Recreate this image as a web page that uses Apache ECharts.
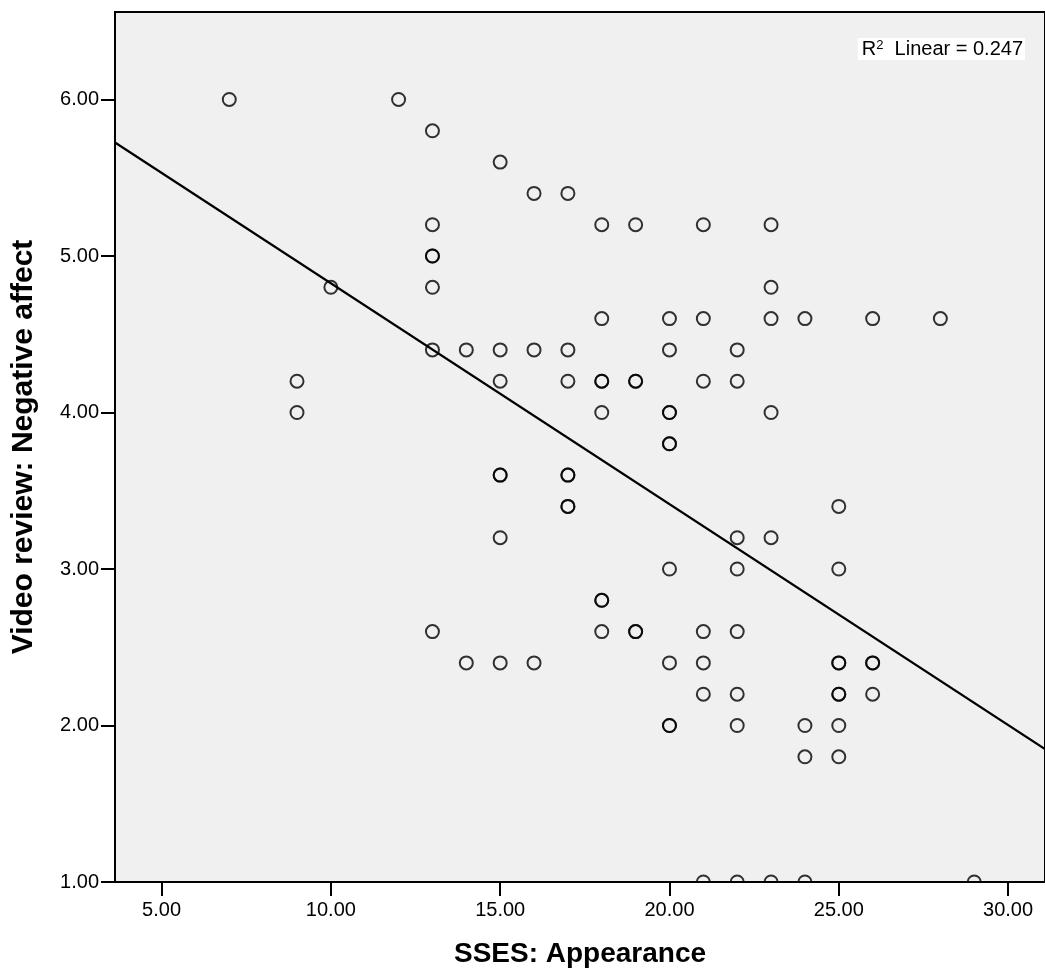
<!DOCTYPE html>
<html>
<head>
<meta charset="utf-8">
<script src="https://cdn.jsdelivr.net/npm/echarts@6/dist/echarts.min.js"></script>
<style>
    body { margin: 0; background: #fff; }
    #scatter { width: 1045px; height: 976px; }
</style>
</head>
<body>
<div id="scatter"></div>
<script>
// SSES appearance vs video review negative affect (duplicates kept, they draw darker)
var appearance = [7, 12, 13, 15, 16, 17,
    13, 18, 19, 21, 23,
    13, 13,
    10, 13, 23,
    18, 20, 21, 23, 24, 26, 28,
    13, 14, 15, 16, 17, 20, 22,
    9, 15, 17, 18, 18, 19, 19, 21, 22,
    9, 18, 20, 20, 23,
    20, 20,
    15, 15, 17, 17,
    17, 17, 25,
    15, 22, 23,
    20, 22, 25,
    18, 18,
    13, 18, 19, 19, 21, 22,
    14, 15, 16, 20, 21, 25, 25, 26, 26,
    21, 22, 25, 25, 26,
    20, 20, 22, 24, 25,
    24, 25,
    21, 22, 23, 24, 29];
var negAffect = [6.0, 6.0, 5.8, 5.6, 5.4, 5.4,
    5.2, 5.2, 5.2, 5.2, 5.2,
    5.0, 5.0,
    4.8, 4.8, 4.8,
    4.6, 4.6, 4.6, 4.6, 4.6, 4.6, 4.6,
    4.4, 4.4, 4.4, 4.4, 4.4, 4.4, 4.4,
    4.2, 4.2, 4.2, 4.2, 4.2, 4.2, 4.2, 4.2, 4.2,
    4.0, 4.0, 4.0, 4.0, 4.0,
    3.8, 3.8,
    3.6, 3.6, 3.6, 3.6,
    3.4, 3.4, 3.4,
    3.2, 3.2, 3.2,
    3.0, 3.0, 3.0,
    2.8, 2.8,
    2.6, 2.6, 2.6, 2.6, 2.6, 2.6,
    2.4, 2.4, 2.4, 2.4, 2.4, 2.4, 2.4, 2.4, 2.4,
    2.2, 2.2, 2.2, 2.2, 2.2,
    2.0, 2.0, 2.0, 2.0, 2.0,
    1.8, 1.8,
    1.0, 1.0, 1.0, 1.0, 1.0];

// fit line, read at the two plot edges
var fitX = [3.625, 31.09];
var fitY = [5.725, 1.85];

var xTicks = [5, 10, 15, 20, 25, 30];
var yTicks = [1, 2, 3, 4, 5, 6];
var xRange = [3.625, 31.09];
var yRange = [1, 6.559];
var r2Text = '0.247';

var points = [];
for (var i = 0; i < appearance.length; i++) {
    points.push([appearance[i], negAffect[i]]);
}
var fitLine = [[fitX[0], fitY[0]], [fitX[1], fitY[1]]];

var font = 'Liberation Sans, Arial, sans-serif';

var chart = echarts.init(document.getElementById('scatter'));
var option = {
    animation: false,
    grid: {
        left: 115, top: 12, right: -1, bottom: 94,
        show: true,
        backgroundColor: '#f0f0f0',
        borderColor: '#000',
        borderWidth: 2
    },
    xAxis: {
        type: 'value',
        min: xRange[0],
        max: xRange[1],
        z: 5,
        name: 'SSES: Appearance',
        nameLocation: 'middle',
        nameGap: 58,
        nameTextStyle: { fontFamily: font, fontSize: 28, fontWeight: 'bold', color: '#000' },
        axisLine: { lineStyle: { color: '#000', width: 2 } },
        axisTick: { customValues: xTicks, length: 14, lineStyle: { color: '#000', width: 2 } },
        axisLabel: {
            customValues: xTicks,
            margin: 18,
            fontFamily: font, fontSize: 20, color: '#000',
            formatter: function (v) { return v.toFixed(2); }
        },
        splitLine: { show: false }
    },
    yAxis: {
        type: 'value',
        min: yRange[0],
        max: yRange[1],
        z: 5,
        name: 'Video review: Negative affect',
        nameLocation: 'middle',
        nameGap: 76,
        nameTextStyle: { fontFamily: font, fontSize: 30, fontWeight: 'bold', color: '#000' },
        axisLine: { lineStyle: { color: '#000', width: 2 } },
        axisTick: { customValues: yTicks, length: 14, lineStyle: { color: '#000', width: 2 } },
        axisLabel: {
            customValues: yTicks,
            margin: 16,
            fontFamily: font, fontSize: 20, color: '#000',
            formatter: function (v) { return v.toFixed(2); }
        },
        splitLine: { show: false }
    },
    graphic: [
        {
            // hides the lower half of circles sitting on the x axis
            type: 'rect',
            z: 3,
            silent: true,
            shape: { x: 116, y: 883, width: 930, height: 20 },
            style: { fill: '#fff' }
        },
        {
            type: 'text',
            right: 20,
            top: 38,
            z: 6,
            style: {
                text: 'R{sup|2}  Linear = ' + r2Text,
                fontFamily: font,
                fontSize: 20,
                fill: '#000',
                backgroundColor: '#fff',
                padding: [1, 2, 0, 4],
                rich: {
                    sup: { fontFamily: font, fontSize: 13, fill: '#000', verticalAlign: 'top', padding: [0, 0, 8, 0] }
                }
            }
        }
    ],
    series: [
        {
            type: 'line',
            data: fitLine,
            symbol: 'none',
            lineStyle: { color: '#000', width: 2.2 },
            z: 1
        },
        {
            type: 'scatter',
            data: points,
            symbol: 'circle',
            symbolSize: 13,
            itemStyle: { color: 'transparent', borderColor: '#000', borderWidth: 2 },
            z: 2
        }
    ]
};
chart.setOption(option);
</script>
</body>
</html>
